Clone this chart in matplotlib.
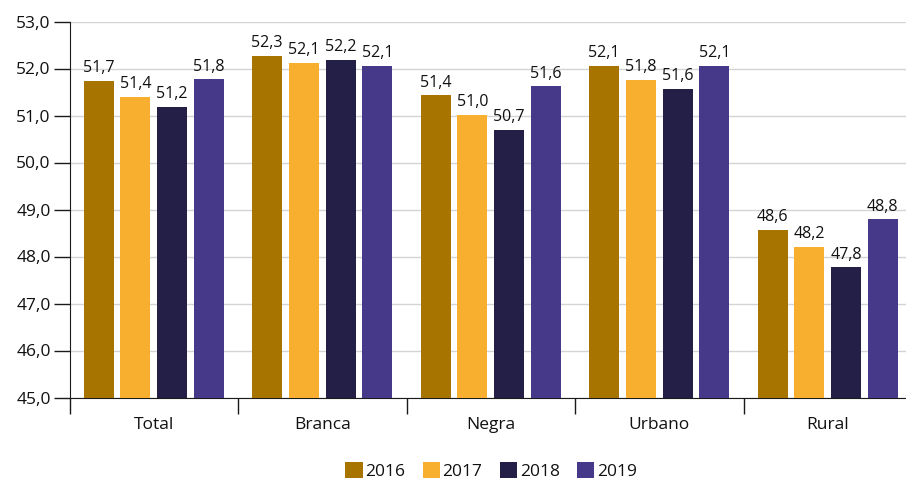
import numpy as np
import matplotlib
matplotlib.use("Agg")
import matplotlib.pyplot as plt

# dados
categorias = ["Total", "Branca", "Negra", "Urbano", "Rural"]
anos = ["2016", "2017", "2018", "2019"]
v2016 = [51.73, 52.27, 51.43, 52.06, 48.56]
v2017 = [51.39, 52.12, 51.01, 51.76, 48.21]
v2018 = [51.19, 52.18, 50.70, 51.56, 47.77]
v2019 = [51.77, 52.06, 51.62, 52.06, 48.79]
cores = ["#A87400", "#F8AE2E", "#231F46", "#46398A"]
yticks = [45, 46, 47, 48, 49, 50, 51, 52, 53]

plt.rcParams["font.family"] = ["Open Sans", "DejaVu Sans"]

fig = plt.figure(figsize=(9.06, 4.79), dpi=100)
ax = fig.add_axes([69.5 / 906, 1 - 397.5 / 479, 842.5 / 906, 376 / 479])

x = np.arange(len(categorias))
largura = 0.178
passo = 0.218
series = [v2016, v2017, v2018, v2019]

for i, (vals, cor, ano) in enumerate(zip(series, cores, anos)):
    pos = x + (i - 1.5) * passo
    ax.bar(pos, np.array(vals) - 45, width=largura, bottom=45,
           color=cor, label=ano, zorder=3)
    for xb, v in zip(pos, vals):
        ax.text(xb, v + 0.1, f"{v:.1f}".replace(".", ","), ha="center",
                va="bottom", fontsize=11.5, color="#111111")

ax.set_ylim(45, 53)
ax.set_xlim(-0.5, len(categorias) - 0.5)
ax.set_yticks(yticks)
ax.set_yticklabels([f"{t:.1f}".replace(".", ",") for t in yticks],
                   fontsize=12.5, color="#111111")
ax.grid(axis="y", color="#d4d4d4", linewidth=1, zorder=0)

# categorias com separadores
ax.set_xticks(np.arange(len(categorias) + 1) - 0.5)
ax.set_xticklabels([])
ax.tick_params(axis="x", length=11.5, width=1, color="#1a1a1a")
ax.set_xticks(x, minor=True)
ax.set_xticklabels(categorias, minor=True, fontsize=12.5, color="#111111")
ax.tick_params(axis="x", which="minor", length=0, pad=14)
ax.tick_params(axis="y", length=11.5, width=1, color="#1a1a1a", pad=2)

for s in ["top", "right"]:
    ax.spines[s].set_visible(False)
ax.spines["left"].set_color("#1a1a1a")
ax.spines["bottom"].set_color("#1a1a1a")

leg = fig.legend(loc="lower center", bbox_to_anchor=(0.542, -0.035), ncol=4,
                 frameon=False, fontsize=12.5, handlelength=1.0,
                 handleheight=1.0, handletextpad=0.15, columnspacing=1.0)
for t in leg.get_texts():
    t.set_color("#111111")

fig.savefig("out.png", dpi=100)
